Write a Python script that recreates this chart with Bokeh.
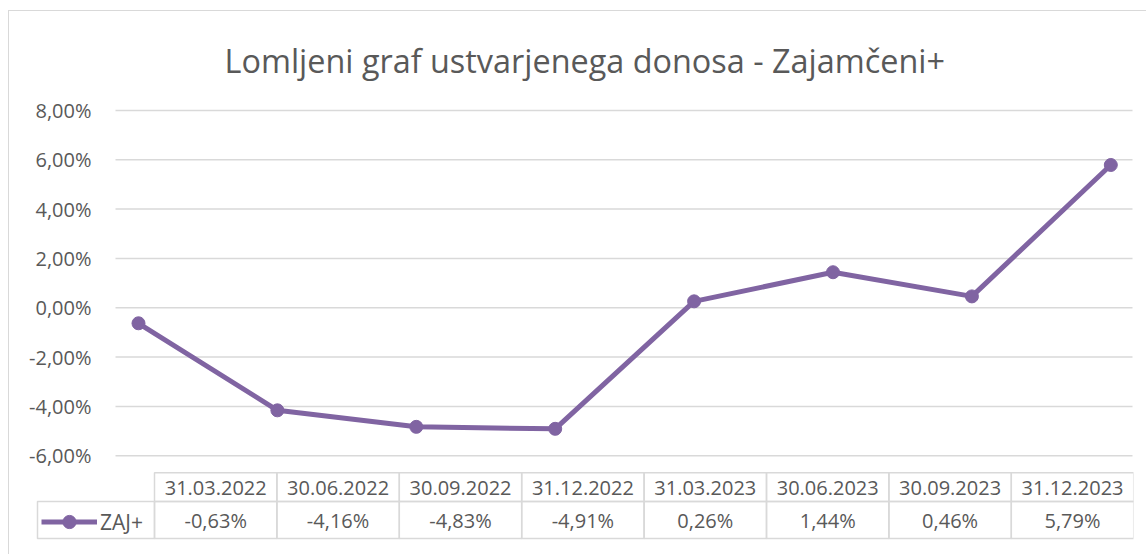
from bokeh.plotting import figure
from bokeh.models import (Range1d, FixedTicker, CustomJSTickFormatter, Title,
                          Legend, LegendItem)
from bokeh.embed import file_html
from bokeh.resources import INLINE
from bokeh.core.properties import value

# ---- data ----
dates = ["31.03.2022", "30.06.2022", "30.09.2022", "31.12.2022",
         "31.03.2023", "30.06.2023", "30.09.2023", "31.12.2023"]
returns_pct = [-0.63, -4.16, -4.83, -4.91, 0.26, 1.44, 0.46, 5.79]
series_name = "ZAJ+"
chart_title = "Lomljeni graf ustvarjenega donosa - Zajamčeni+"
y_ticks = [-6, -4, -2, 0, 2, 4, 6, 8]

# ---- style ----
FONT = "Open Sans"
TEXT = "#595959"
PURPLE = "#8064A2"
GRID = "#d9d9d9"

x_idx = list(range(len(dates)))
n = len(dates)

# canvas origin at page (9, 11); frame spans page px x 35..1133, y 104..540
p = figure(width=1138, height=544, output_backend="svg", toolbar_location=None,
           x_range=Range1d(-0.7415, 7.1634), y_range=Range1d(-9.4394, 8.2023),
           x_axis_location=None,
           min_border_left=26, min_border_right=14, min_border_top=93,
           min_border_bottom=15,
           styles={"margin-left": "8px", "margin-top": "10px",
                   "border-left": "1px solid #d9d9d9",
                   "border-top": "1px solid #d9d9d9"})
p.outline_line_color = None
p.xgrid.grid_line_color = None
p.ygrid.grid_line_color = None
p.border_fill_color = "white"

ax = p.yaxis[0]
ax.ticker = FixedTicker(ticks=y_ticks)
ax.formatter = CustomJSTickFormatter(code="return tick.toFixed(2).replace('.', ',') + '%';")
ax.axis_line_color = None
ax.major_tick_line_color = None
ax.minor_tick_line_color = None
ax.major_tick_out = 0
ax.major_tick_in = 0
ax.minor_tick_out = 0
ax.major_label_standoff = -56
ax.major_label_text_font = FONT
ax.major_label_text_font_size = "20px"
ax.major_label_text_color = TEXT

p.title = Title(text=chart_title, align="left", offset=189, standoff=48,
                text_font=FONT, text_font_size="32.4px", text_font_style="normal",
                text_color=TEXT)

# layout ranges in page pixels for the grid and the data table
p.extra_x_ranges = {"px": Range1d(35, 1133)}
p.extra_y_ranges = {"px": Range1d(540, 104)}

# horizontal gridlines at the tick values (plot area 115..1132)
p.segment(x0=[115] * len(y_ticks), x1=[1132] * len(y_ticks), y0=y_ticks, y1=y_ticks,
          line_color=GRID, line_width=1.5, x_range_name="px")

line_r = p.line(x_idx, returns_pct, line_color=PURPLE, line_width=5)
dot_r = p.scatter(x_idx, returns_pct, size=13, fill_color=PURPLE, line_color=PURPLE)

# ---- data table ----
col_left0 = 154.0
col_w = 122.4
lefts = [col_left0 + col_w * i for i in x_idx]
rights = [l + col_w for l in lefts]
centers = [l + col_w / 2 for l in lefts]

p.quad(left=lefts, right=rights, top=[472] * n, bottom=[501] * n,
       fill_color=None, line_color=GRID, line_width=1.5,
       x_range_name="px", y_range_name="px")
p.quad(left=[37] + lefts, right=[col_left0] + rights,
       top=[501] * (n + 1), bottom=[538] * (n + 1),
       fill_color=None, line_color=GRID, line_width=1.5,
       x_range_name="px", y_range_name="px")

p.text(x=centers, y=[487] * n, text=dates, text_align="center",
       text_baseline="middle", text_font=value(FONT), text_font_size="20px",
       text_color=TEXT, x_range_name="px", y_range_name="px")
val_labels = [("%.2f" % v).replace(".", ",") + "%" for v in returns_pct]
p.text(x=centers, y=[520] * n, text=val_labels, text_align="center",
       text_baseline="middle", text_font=value(FONT), text_font_size="20px",
       text_color=TEXT, x_range_name="px", y_range_name="px")

# legend key inside the first cell of the value row
legend = Legend(items=[LegendItem(label=series_name, renderers=[line_r, dot_r])],
                location=(6, 2), orientation="vertical",
                border_line_color=None, background_fill_alpha=0,
                margin=0, padding=2, spacing=0,
                glyph_width=56, glyph_height=33, label_standoff=3,
                label_text_font=FONT, label_text_font_size="21px",
                label_text_color=TEXT, label_height=33)
p.add_layout(legend)

open("out.html", "w").write(file_html(p, INLINE))
